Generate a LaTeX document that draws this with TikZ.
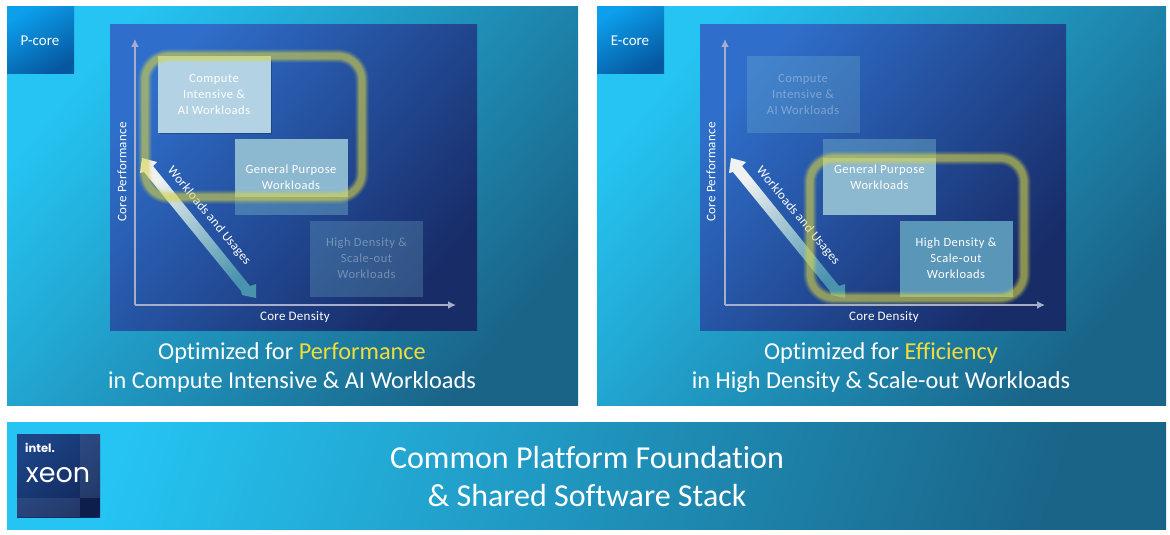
\documentclass[tikz,border=0pt]{standalone}
\usepackage{fontspec}
\setmainfont[Ligatures=NoCommon]{Carlito}
\newfontfamily\logofont{Poppins}
\usetikzlibrary{arrows.meta,calc}
\definecolor{skyA}{HTML}{25C4F2}
\definecolor{skyB}{HTML}{1A6488}
\definecolor{navyA}{HTML}{2F6FCB}
\definecolor{navyB}{HTML}{182C68}
\definecolor{tagA}{HTML}{0C9FEC}
\definecolor{tagB}{HTML}{0558A0}
\definecolor{axisc}{HTML}{A6AECB}
\definecolor{glowc}{HTML}{D9D548}
\definecolor{gold}{HTML}{F2DC3C}
\definecolor{arrowA}{HTML}{F0F2F2}
\definecolor{arrowB}{HTML}{4A93AE}
\definecolor{tealbox}{HTML}{5A96B8}
\definecolor{boxhigh}{HTML}{B3D3E4}
\definecolor{boxmid}{HTML}{8CB8D0}
\definecolor{boxdim}{HTML}{7FC4D4}
\definecolor{logoA}{HTML}{1C4486}
\definecolor{logoB}{HTML}{12285C}
\definecolor{logoC}{HTML}{0E1E4C}
\tikzset{
  skypanel/.style={shading=axis,top color=skyA,bottom color=skyB,shading angle=50},
  navypanel/.style={shading=axis,top color=navyA,bottom color=navyB,shading angle=50},
  tagbox/.style={shading=axis,top color=tagA,bottom color=tagB,shading angle=30},
  taglabel/.style={text=white,font=\fontsize{15}{18}\selectfont},
  wbox/.style={minimum width=113pt,minimum height=76pt,inner sep=0pt,align=center,
    font=\fontsize{12.5}{16}\selectfont\addfontfeatures{LetterSpace=4}},
  activeA/.style={wbox,fill=boxhigh,text=white},
  activeB/.style={wbox,text=white},
  activeC/.style={wbox,fill=tealbox,text=white},
  faded/.style={wbox,fill=boxdim,fill opacity=.25,text=white,text opacity=.32},
  axisline/.style={draw=axisc,line width=2pt,-{Latex[length=8pt,width=8pt]}},
  axislabel/.style={text=white,font=\fontsize{13}{15}\selectfont\addfontfeatures{LetterSpace=2}},
  headline/.style={text=white,font=\fontsize{24.3}{28}\selectfont},
  bigline/.style={text=white,font=\fontsize{32}{37}\selectfont},
  flowarrow/.style={shading=axis,top color=arrowA,bottom color=arrowB,shading angle=42},
}
\newcommand{\softframe}[4]{%
  \foreach \w/\o in {14/.08,12/.12,10/.16,8/.22,6/.26}
    \draw[glowc,line width=\w pt,opacity=\o,rounded corners=24pt] (#1,#2) rectangle (#3,#4);
}
\begin{document}
\begin{tikzpicture}[x=1pt,y=-1pt]
\useasboundingbox[fill=white] (0,0) rectangle (1170,535);

% ---------- outer panels
\shade[skypanel] (7,7) rectangle (578,405);
\shade[skypanel] (597,7) rectangle (1166,405);
\shade[shading=axis,top color=skyA,bottom color=skyB,shading angle=72] (7,422) rectangle (1166,529);

% ---------- inner panels
\shade[navypanel] (110,25) rectangle (477,330);
\shade[navypanel] (700,25) rectangle (1066,330);

% ---------- tags
\shade[tagbox] (7,7) rectangle (74,74);
\shade[tagbox] (597,7) rectangle (664,74);
\node[taglabel] (ptag) at (40,41) {P-core};
\node[taglabel] (etag) at (630,41) {E-core};

% ---------- left chart
\fill[black,opacity=.22] (160,59) rectangle (272,134);
\node[activeA] (pa) at (214,94.5) {Compute\\Intensive \&\\AI Workloads};
\fill[boxmid] (234.5,138.5) rectangle (347.5,197);
\fill[boxdim,opacity=.38] (234.5,197) rectangle (347.5,214.5);
\node[activeB] (pb) at (291,177) {General Purpose\\Workloads};
\node[faded]   (pc) at (366.5,258.5) {High Density \&\\Scale-out\\Workloads};
\coordinate (po) at (135,305);
\coordinate (py) at (135,39);
\coordinate (px) at (456,305);
\draw[axisline] (po) -- (py);
\draw[axisline] (po) -- (px);
\node[axislabel,rotate=90] (pyl) at (122,172) {Core Performance};
\node[axislabel] (pxl) at (295,317) {Core Density};
\shade[flowarrow] (142,158) -- (157,162) -- (153,166) -- (250,286) -- (256,284) -- (256,298) -- (242,295) -- (241,291) -- (144,172) -- (140,173) -- cycle;
\node[axislabel,rotate=-50.5] (pfl) at (209,216) {Workloads and Usages};
\softframe{145}{56}{362}{197}

% ---------- right chart
\node[faded]   (ea) at (803,94.5) {Compute\\Intensive \&\\AI Workloads};
\fill[boxdim,opacity=.38] (823,138.5) rectangle (936,158);
\fill[boxmid] (823,158) rectangle (936,214.5);
\node[activeB] (eb) at (879.5,177) {General Purpose\\Workloads};
\node[activeC] (ec) at (956,258.5) {High Density \&\\Scale-out\\Workloads};
\coordinate (eo) at (725,305);
\coordinate (ey) at (725,39);
\coordinate (ex) at (1045,305);
\draw[axisline] (eo) -- (ey);
\draw[axisline] (eo) -- (ex);
\node[axislabel,rotate=90] (eyl) at (711,172) {Core Performance};
\node[axislabel] (exl) at (884,317) {Core Density};
\shade[flowarrow] (731,158) -- (746,162) -- (742,166) -- (839,286) -- (845,284) -- (845,298) -- (831,295) -- (830,291) -- (733,172) -- (729,173) -- cycle;
\node[axislabel,rotate=-50.5] (efl) at (798,216) {Workloads and Usages};
\softframe{810}{158}{1024}{298}

% ---------- captions
\node[headline] (pt1) at (292,353.5) {Optimized for \textcolor{gold}{Performance}};
\node[headline] (pt2) at (292,382.5) {in Compute Intensive \& AI Workloads};
\node[headline] (et1) at (881,353.5) {Optimized for \textcolor{gold}{Efficiency}};
\node[headline] (et2) at (881,382.5) {in High Density \& Scale-out Workloads};

% ---------- footer
\node[bigline] (ft1) at (587,458) {Common Platform Foundation};
\node[bigline] (ft2) at (587,496) {\& Shared Software Stack};

% ---------- logo
\shade[shading=axis,top color=logoA,bottom color=logoB,shading angle=40] (17,434) rectangle (100,517);
\fill[white,opacity=.08] (80,434) rectangle (100,517);
\fill[white,opacity=.08] (17,498) rectangle (100,517);
\fill[logoC] (80,498) rectangle (100,517);
\node[text=white,font=\logofont\bfseries\fontsize{11.5}{14}\selectfont,inner sep=0pt] (lg1) at (40,448) {intel.};
\node[text=white,font=\logofont\fontsize{27}{30}\selectfont,inner sep=0pt] (lg2) at (58,475) {xeon};
\end{tikzpicture}
\end{document}
